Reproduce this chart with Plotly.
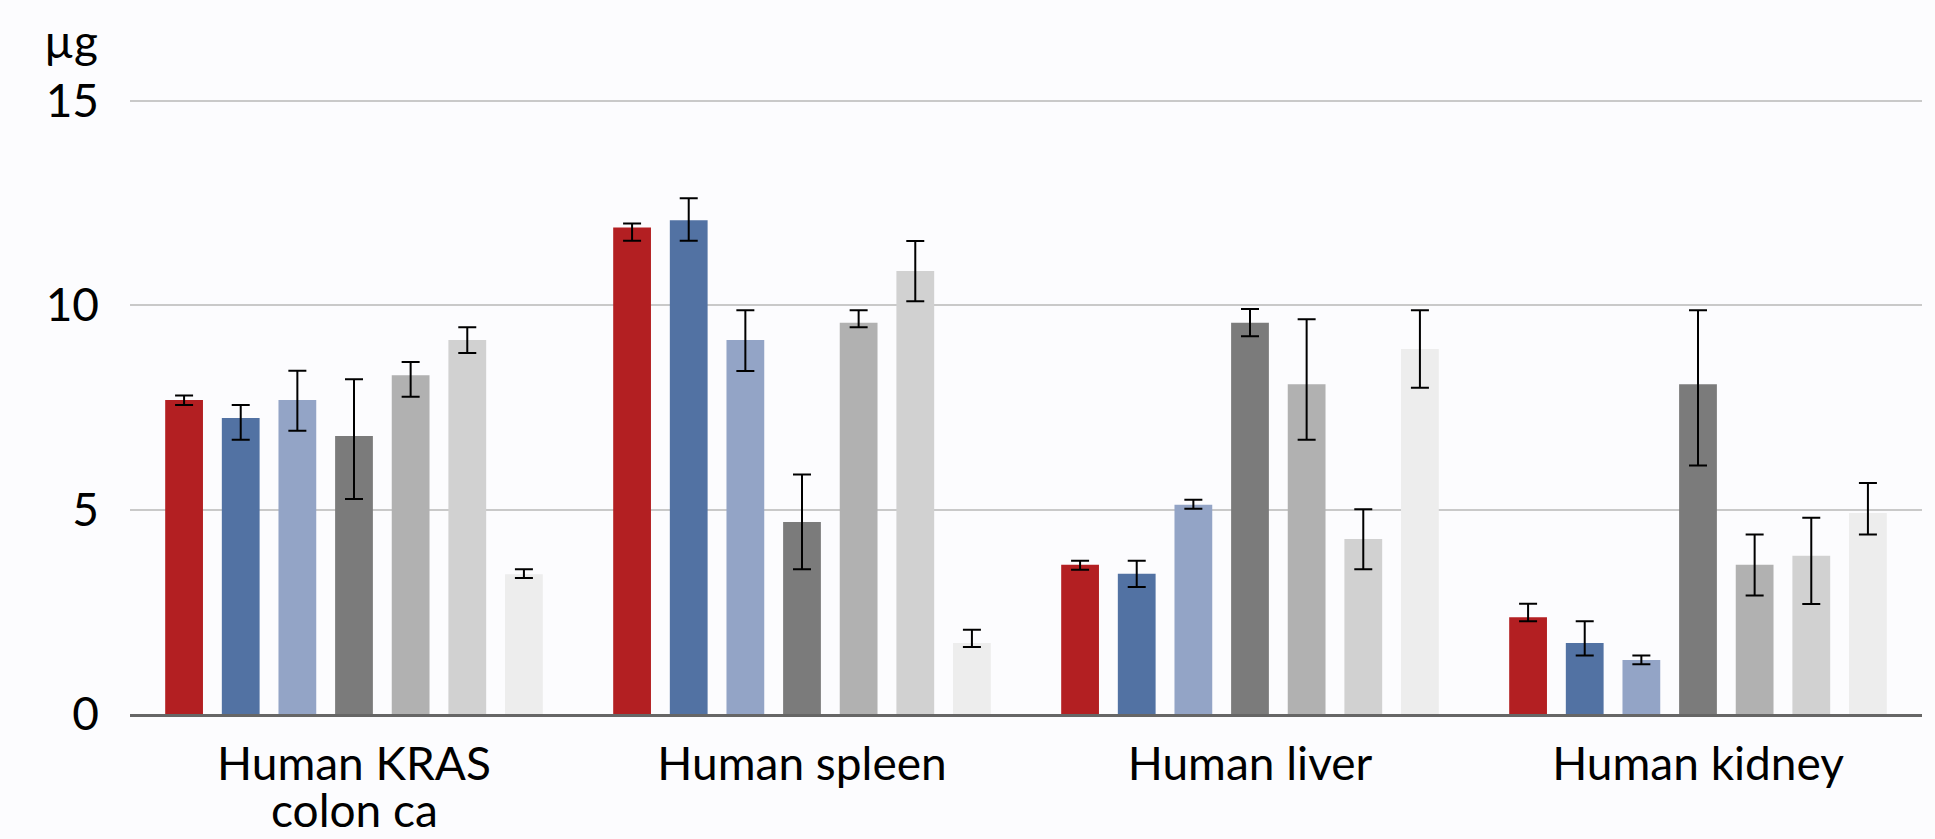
import plotly.graph_objects as go

categories = ["Human KRAS colon ca", "Human spleen", "Human liver", "Human kidney"]
label_line1 = ["Human KRAS", "Human spleen", "Human liver", "Human kidney"]
label_line2 = ["colon ca", "", "", ""]

series_names = ["S1", "S2", "S3", "S4", "S5", "S6", "S7"]
s1 = [7.68, 11.90, 3.65, 2.37]
s2 = [7.24, 12.08, 3.43, 1.74]
s3 = [7.68, 9.15, 5.12, 1.32]
s4 = [6.80, 4.70, 9.57, 8.07]
s5 = [8.29, 9.57, 8.07, 3.65]
s6 = [9.15, 10.84, 4.28, 3.87]
s7 = [3.42, 1.74, 8.93, 4.92]

# upper / lower error extents
p1 = [0.11, 0.10, 0.10, 0.33]; m1 = [0.12, 0.32, 0.12, 0.10]
p2 = [0.32, 0.54, 0.32, 0.53]; m2 = [0.53, 0.50, 0.32, 0.31]
p3 = [0.72, 0.73, 0.12, 0.11]; m3 = [0.75, 0.76, 0.10, 0.10]
p4 = [1.39, 1.16, 0.34, 1.81]; m4 = [1.54, 1.16, 0.33, 1.99]
p5 = [0.32, 0.31, 1.59, 0.74]; m5 = [0.53, 0.11, 1.36, 0.75]
p6 = [0.31, 0.73, 0.73, 0.93]; m6 = [0.32, 0.74, 0.74, 1.18]
p7 = [0.12, 0.32, 0.95, 0.73]; m7 = [0.09, 0.10, 0.95, 0.53]

values = [s1, s2, s3, s4, s5, s6, s7]
err_plus = [p1, p2, p3, p4, p5, p6, p7]
err_minus = [m1, m2, m3, m4, m5, m6, m7]
colors = ["#B31F22", "#5272A3", "#93A4C6", "#7B7B7B", "#B1B1B1", "#D1D1D1", "#EDEDED"]

y_ticks = [0, 5, 10, 15]
unit_label = "µg"

FONT = "Lato"
FS = 46

fig = go.Figure()
for name, v, ep, em, c in zip(series_names, values, err_plus, err_minus, colors):
    fig.add_trace(go.Bar(
        x=categories, y=v, name=name,
        marker=dict(color=c, line=dict(width=0)),
        error_y=dict(type="data", symmetric=False, array=ep, arrayminus=em,
                     visible=True, color="#000000", thickness=2, width=9),
    ))

annotations = [dict(text=unit_label, xref="paper", yref="paper",
                    x=-0.033, y=1.0, showarrow=False,
                    font=dict(size=FS, family=FONT, color="#000000"),
                    xanchor="center", yanchor="middle")]
for cat, l2 in zip(categories, label_line2):
    if l2:
        annotations.append(dict(text=l2, xref="x", yref="paper", x=cat, y=-0.142,
                                showarrow=False, xanchor="center", yanchor="middle",
                                font=dict(size=FS, family=FONT, color="#000000")))

fig.update_layout(
    width=1935, height=839,
    barmode="group", bargap=0.115, bargroupgap=0.333,
    showlegend=False,
    paper_bgcolor="#FCFCFE", plot_bgcolor="#FCFCFE",
    margin=dict(l=130, r=13, t=40, b=125, autoexpand=False),
    font=dict(family=FONT, color="#000000", size=FS),
    xaxis=dict(showline=True, linecolor="#666666", linewidth=3,
               tickvals=categories, ticktext=label_line1,
               ticks="", tickfont=dict(size=FS, family=FONT),
               showgrid=False, ticklabelstandoff=8, automargin=False),
    yaxis=dict(range=[0, 16.49], tickvals=y_ticks, ticktext=[str(t) for t in y_ticks],
               showgrid=True, gridcolor="#C9C9C9", gridwidth=2,
               zeroline=False, ticks="", tickfont=dict(size=FS, family=FONT),
               ticklabelstandoff=30, automargin=False),
    annotations=annotations,
)

fig.write_html("out.html", config={"displayModeBar": False},
               post_script="document.body.style.margin='0';document.body.style.background='#FCFCFE';")
